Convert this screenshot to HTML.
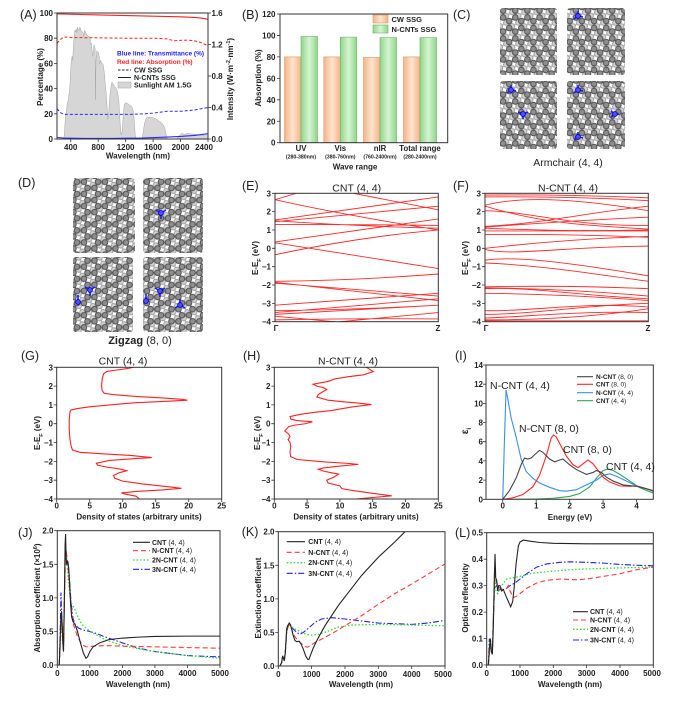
<!DOCTYPE html>
<html><head><meta charset="utf-8">
<style>
html,body{margin:0;padding:0;background:#fff;}
svg{display:block;font-family:"Liberation Sans",Arial,sans-serif;}
.tk{font-size:8px;font-weight:bold;fill:#222}
.ax{font-size:8px;font-weight:bold;fill:#222}
.pl{font-size:12.5px;fill:#222}
.tt{font-size:10.5px;fill:#222}
.ns{vector-effect:non-scaling-stroke;fill:none}
.fr{fill:none;stroke:#333;stroke-width:1}
.tl{stroke:#333;stroke-width:0.8;fill:none}
.lg{font-size:7px;fill:#222}
.bd{stroke:#ff2a2a;stroke-width:0.9;fill:none;vector-effect:non-scaling-stroke}
</style></head><body>
<svg width="678" height="701" viewBox="0 0 678 701" xmlns="http://www.w3.org/2000/svg">
<defs>
<linearGradient id="go" x1="0" x2="1" y1="0" y2="0"><stop offset="0" stop-color="#f5b487"/><stop offset="0.5" stop-color="#fde4cf"/><stop offset="1" stop-color="#f5b487"/></linearGradient>
<linearGradient id="gg" x1="0" x2="1" y1="0" y2="0"><stop offset="0" stop-color="#8fd68b"/><stop offset="0.5" stop-color="#d6f4d1"/><stop offset="1" stop-color="#8fd68b"/></linearGradient>
<pattern id="pf" width="12.124" height="21" patternUnits="userSpaceOnUse">
 <path d="M0 0V7M12.124 0V7M0 7L6.062 10.5L12.124 7M6.062 10.5V17.5M0 21L6.062 17.5L12.124 21" stroke="#6e6e6e" stroke-width="1.6" fill="none"/>
 <g fill="#8e8e8e" stroke="#545454" stroke-width="1"><circle cx="0" cy="0" r="2.8"/><circle cx="12.124" cy="0" r="2.8"/><circle cx="0" cy="7" r="2.8"/><circle cx="12.124" cy="7" r="2.8"/><circle cx="6.062" cy="10.5" r="2.8"/><circle cx="6.062" cy="17.5" r="2.8"/><circle cx="0" cy="21" r="2.8"/><circle cx="12.124" cy="21" r="2.8"/></g>
</pattern>
<pattern id="pb" width="12.124" height="21" patternUnits="userSpaceOnUse" patternTransform="translate(3,5.2)">
 <path d="M0 0V7M12.124 0V7M0 7L6.062 10.5L12.124 7M6.062 10.5V17.5M0 21L6.062 17.5L12.124 21" stroke="#b5b5b5" stroke-width="1.4" fill="none"/>
 <g fill="#d2d2d2" stroke="#9a9a9a" stroke-width="0.9"><circle cx="0" cy="0" r="2.6"/><circle cx="12.124" cy="0" r="2.6"/><circle cx="0" cy="7" r="2.6"/><circle cx="12.124" cy="7" r="2.6"/><circle cx="6.062" cy="10.5" r="2.6"/><circle cx="6.062" cy="17.5" r="2.6"/><circle cx="0" cy="21" r="2.6"/><circle cx="12.124" cy="21" r="2.6"/></g>
</pattern>
<pattern id="pfz" href="#pf" patternTransform="rotate(90)"/>
<pattern id="pbz" href="#pb" patternTransform="rotate(90) translate(3,5.2)"/>
<clipPath id="cA"><rect x="57" y="13" width="151" height="126"/></clipPath>
<clipPath id="cE"><rect x="275" y="193.3" width="163.3" height="128.4"/></clipPath>
<clipPath id="cF"><rect x="485" y="193.3" width="163.3" height="128.4"/></clipPath>
<clipPath id="cG"><rect x="56.7" y="367.3" width="165" height="131.7"/></clipPath>
<clipPath id="cH"><rect x="274.3" y="367.3" width="164" height="131.7"/></clipPath>
<clipPath id="cI"><rect x="486" y="365" width="167.3" height="134.3"/></clipPath>
<clipPath id="cJ"><rect x="57.3" y="530.7" width="162.7" height="134.3"/></clipPath>
<clipPath id="cK"><rect x="278.3" y="531.7" width="166.7" height="134.3"/></clipPath>
<clipPath id="cL"><rect x="486.7" y="532.7" width="166.6" height="132.3"/></clipPath>
</defs>
<rect width="678" height="701" fill="#fff"/>

<!-- ===== A ===== -->
<text class="pl" x="20" y="19">(A)</text>
<g clip-path="url(#cA)">
<g transform="translate(43.273,139) scale(0.068636,-78.75)">
<polygon style="fill:#d6d6d6;stroke:#a5a5a5;stroke-width:0.5;vector-effect:non-scaling-stroke" points="300,0 310,0.1 320,0.25 335,0.35 350,0.45 365,0.5 380,0.6 390,0.7 400,0.9 410,1.0 420,1.05 430,1.0 440,1.2 450,1.3 460,1.38 470,1.36 480,1.4 490,1.35 500,1.42 510,1.38 520,1.38 530,1.42 540,1.41 550,1.38 560,1.37 570,1.36 580,1.35 590,1.3 600,1.38 620,1.35 640,1.32 660,1.3 680,1.3 690,1.2 700,1.22 720,1.05 730,1.1 740,1.2 755,1.15 760,0.5 768,1.0 780,1.12 800,1.1 815,1.05 820,0.95 835,1.0 850,0.97 870,0.95 880,0.9 895,0.8 900,0.72 915,0.6 930,0.4 940,0.25 955,0.35 970,0.55 985,0.65 1000,0.72 1020,0.7 1040,0.66 1060,0.65 1080,0.6 1100,0.5 1110,0.35 1120,0.2 1135,0.05 1150,0.1 1165,0.3 1180,0.44 1200,0.46 1230,0.45 1260,0.43 1290,0.41 1310,0.36 1325,0.25 1340,0.05 1355,0 1440,0 1455,0.08 1475,0.2 1500,0.27 1550,0.28 1600,0.27 1650,0.25 1700,0.22 1740,0.19 1770,0.14 1790,0.06 1805,0 1950,0 1960,0.03 1990,0.05 2020,0.07 2060,0.06 2100,0.07 2150,0.065 2200,0.06 2250,0.055 2300,0.05 2350,0.045 2400,0.04 2400,0"/>
</g>
<g transform="translate(43.273,139) scale(0.068636,-1.26)">
<polyline class="ns" stroke="#ff2020" stroke-width="1.1" points="200,99.3 400,99 800,98.5 1200,98 1600,97.5 2000,97 2200,96.5 2300,96 2400,95"/>
<polyline class="ns" stroke="#ff2020" stroke-width="1" stroke-dasharray="3 2" points="200,76 250,79 300,81 400,80.5 800,80.3 1200,80 1600,80 1800,79.5 1900,78 2000,78.3 2100,78.5 2200,78 2300,76.5 2400,74"/>
<polyline class="ns" stroke="#2a2aff" stroke-width="1" stroke-dasharray="3 2" points="200,24 250,21 300,19.5 400,19.5 800,19.5 1200,19.5 1400,19.8 1600,20.5 1800,22 2000,22 2200,23 2300,24 2400,25"/>
<polyline class="ns" stroke="#2a2aff" stroke-width="1.1" points="200,1.2 300,0.8 600,0.5 1000,0.5 1400,0.7 1800,1.5 2000,2 2200,2.8 2400,4.2"/>
</g>
</g>
<rect class="fr" x="57" y="13" width="151" height="126"/>
<path class="tl" d="M70.73 139v3M98.18 139v3M125.64 139v3M153.09 139v3M180.55 139v3M208 139v3M57 139h-3M57 113.8h-3M57 88.6h-3M57 63.4h-3M57 38.2h-3M57 13h-3M208 139h3M208 107.5h3M208 76h3M208 44.5h3M208 13h3"/>
<g class="tk" text-anchor="middle"><text x="70.7" y="150">400</text><text x="98.2" y="150">800</text><text x="125.6" y="150">1200</text><text x="153.1" y="150">1600</text><text x="180.5" y="150">2000</text><text x="204" y="150">2400</text></g>
<g class="tk" text-anchor="end"><text x="53" y="142">0</text><text x="53" y="116.8">20</text><text x="53" y="91.6">40</text><text x="53" y="66.4">60</text><text x="53" y="41.2">80</text><text x="53" y="16">100</text></g>
<g class="tk"><text x="211.5" y="142">0.0</text><text x="211.5" y="110.5">0.4</text><text x="211.5" y="79">0.8</text><text x="211.5" y="47.5">1.2</text><text x="211.5" y="16">1.6</text></g>
<text class="ax" x="138" y="158.5" text-anchor="middle">Wavelength (nm)</text>
<text class="ax" transform="translate(43,77) rotate(-90)" text-anchor="middle">Percentage (%)</text>
<text class="ax" transform="translate(233,79) rotate(-90)" text-anchor="middle">Intensity (W·m<tspan baseline-shift="super" font-size="5.5">-2</tspan>·nm<tspan baseline-shift="super" font-size="5.5">-1</tspan>)</text>
<text x="117" y="55.5" font-size="6.5" font-weight="bold" fill="#2020ff">Blue line: Transmittance (%)</text>
<text x="117" y="64" font-size="6.5" font-weight="bold" fill="#ff2020">Red line: Absorption (%)</text>
<path d="M118 70h13" stroke="#222" stroke-width="1" stroke-dasharray="2.5 1.5"/>
<path d="M118 77.5h13" stroke="#222" stroke-width="1"/>
<rect x="118" y="82" width="13" height="6" fill="#d6d6d6" stroke="#a5a5a5" stroke-width="0.5"/>
<g font-size="7" font-weight="bold" fill="#222"><text x="134" y="72.5">CW SSG</text><text x="134" y="80">N-CNTs SSG</text><text x="134" y="87.5">Sunlight AM 1.5G</text></g>

<!-- ===== B ===== -->
<text class="pl" x="242" y="19">(B)</text>
<g stroke-width="0.6">
<rect x="284.5" y="56.9" width="16.5" height="85.8" fill="url(#go)" stroke="#d59a6d"/>
<rect x="301" y="36.5" width="16.5" height="106.2" fill="url(#gg)" stroke="#6db368"/>
<rect x="323.8" y="56.9" width="16.5" height="85.8" fill="url(#go)" stroke="#d59a6d"/>
<rect x="340.3" y="37.1" width="16.5" height="105.6" fill="url(#gg)" stroke="#6db368"/>
<rect x="363.5" y="57.4" width="16.5" height="85.3" fill="url(#go)" stroke="#d59a6d"/>
<rect x="380" y="37.6" width="16.5" height="105.1" fill="url(#gg)" stroke="#6db368"/>
<rect x="403.5" y="56.9" width="16.5" height="85.8" fill="url(#go)" stroke="#d59a6d"/>
<rect x="420" y="37.6" width="16.5" height="105.1" fill="url(#gg)" stroke="#6db368"/>
</g>
<rect class="fr" x="280" y="14" width="167.7" height="128.7"/>
<path class="tl" d="M280 142.7h-3M280 121.25h-3M280 99.8h-3M280 78.35h-3M280 56.9h-3M280 35.45h-3M280 14h-3"/>
<g class="tk" text-anchor="end"><text x="275.5" y="145.7">0</text><text x="275.5" y="124.25">20</text><text x="275.5" y="102.8">40</text><text x="275.5" y="81.35">60</text><text x="275.5" y="59.9">80</text><text x="275.5" y="38.45">100</text><text x="275.5" y="17">120</text></g>
<g font-size="7.8" font-weight="bold" fill="#222" text-anchor="middle"><text x="301" y="151">UV</text><text x="340.3" y="151">Vis</text><text x="380" y="151">nIR</text><text x="420" y="151">Total range</text></g>
<g font-size="5.2" font-weight="bold" fill="#222" text-anchor="middle"><text x="301" y="158.5">(280-380nm)</text><text x="340.3" y="158.5">(380-760nm)</text><text x="380" y="158.5">(760-2400nm)</text><text x="420" y="158.5">(280-2400nm)</text></g>
<text class="ax" x="355" y="169.5" text-anchor="middle">Wave range</text>
<text class="ax" transform="translate(261,78) rotate(-90)" text-anchor="middle">Absorption (%)</text>
<rect x="373" y="15" width="15" height="8" fill="url(#go)" stroke="#d59a6d" stroke-width="0.6"/>
<rect x="373" y="25" width="15" height="8" fill="url(#gg)" stroke="#6db368" stroke-width="0.6"/>
<g font-size="7.5" font-weight="bold" fill="#222"><text x="391.5" y="22">CW SSG</text><text x="391.5" y="32">N-CNTs SSG</text></g>

<!-- ===== C ===== -->
<text class="pl" x="453" y="19">(C)</text>
<g>
<rect x="500" y="8" width="57" height="67" rx="3" fill="url(#pb)"/><rect x="500" y="8" width="57" height="67" rx="3" fill="url(#pf)"/>
<rect x="567" y="8" width="58" height="67" rx="3" fill="url(#pb)"/><rect x="567" y="8" width="58" height="67" rx="3" fill="url(#pf)"/>
<rect x="500" y="81" width="57" height="68" rx="3" fill="url(#pb)"/><rect x="500" y="81" width="57" height="68" rx="3" fill="url(#pf)"/>
<rect x="567" y="81" width="58" height="68" rx="3" fill="url(#pb)"/><rect x="567" y="81" width="58" height="68" rx="3" fill="url(#pf)"/>
</g>
<g stroke="#1a1aff" stroke-width="1.6" fill="none">
<path d="M578 16l-4 3M578 16l5 1M578 16v-5M511 90l-4 3M511 90l5 1M511 90v-5M523 114l-5-2M523 114l5-2M523 114v5M578 90l-4 3M578 90l5 1M578 90v-5M615 114l-4-3M615 114l-4 3M615 114h4M578 137l-4 3M578 137l5 1M578 137v-5"/>
</g>
<g fill="#5050ff" stroke="#0000cc" stroke-width="0.9"><circle cx="578" cy="16" r="2.4"/><circle cx="511" cy="90" r="2.4"/><circle cx="523" cy="114" r="2.4"/><circle cx="578" cy="90" r="2.4"/><circle cx="615" cy="114" r="2.4"/><circle cx="578" cy="137" r="2.4"/></g>
<text class="tt" x="568" y="166" text-anchor="middle" font-size="11">Armchair (4, 4)</text>

<!-- ===== D ===== -->
<text class="pl" x="18" y="187">(D)</text>
<g>
<rect x="73" y="178" width="62" height="75" rx="3" fill="url(#pbz)"/><rect x="73" y="178" width="62" height="75" rx="3" fill="url(#pfz)"/>
<rect x="143" y="178" width="60" height="75" rx="3" fill="url(#pbz)"/><rect x="143" y="178" width="60" height="75" rx="3" fill="url(#pfz)"/>
<rect x="73" y="257" width="60" height="75" rx="3" fill="url(#pbz)"/><rect x="73" y="257" width="60" height="75" rx="3" fill="url(#pfz)"/>
<rect x="143" y="257" width="60" height="75" rx="3" fill="url(#pbz)"/><rect x="143" y="257" width="60" height="75" rx="3" fill="url(#pfz)"/>
</g>
<g stroke="#1a1aff" stroke-width="1.6" fill="none">
<path d="M161 213l-5-3M161 213l5-3M161 213v6M90 290l-5-3M90 290l5-3M90 290v6M78 302v-7M160 291l-5-3M160 291l5-3M160 291v6M146 301v-7M180 305l-5 3M180 305l5 3M180 305v-6"/>
</g>
<g fill="#5050ff" stroke="#0000cc" stroke-width="0.9"><circle cx="161" cy="213" r="2.4"/><circle cx="90" cy="290" r="2.4"/><circle cx="78" cy="302" r="2.4"/><circle cx="160" cy="291" r="2.4"/><circle cx="146" cy="301" r="2.4"/><circle cx="180" cy="305" r="2.4"/></g>
<text x="140" y="344" text-anchor="middle" font-size="11" fill="#222"><tspan font-weight="bold">Zigzag</tspan> (8, 0)</text>

<!-- ===== E ===== -->
<text class="pl" x="242" y="190">(E)</text>
<text class="tt" x="356.7" y="191.5" text-anchor="middle">CNT (4, 4)</text>
<g clip-path="url(#cE)"><g transform="translate(275,248.33) scale(163.3,-18.343)">
<path class="bd" d="M0 2.65L0.5 4M0 2.65Q0.4 1.85 1 1.0M0.48 3L1 2.1M0 1.55L1 2.8M0 1.45L1 2.3M0 1.5Q0.5 1.2 1 1.1M0 1.3Q0.5 1.3 1 1.25M0 0.35L1 1.6M0 -0.35Q0.5 0.6 1 1.0M0 0.3L1 -1.1M0 -1.8Q0.5 -1.75 1 -1.4M0 -1.85L1 -2.85M0 -1.9L1 -2.6M0 -3.1L1 -2.45M0 -3.4Q0.5 -3.35 1 -3.1M0 -3.5L1 -2.75M0 -3.6L1 -3.1M0 -3.7L0.6 -4.2M0.4 -4L1 -3.5M0 -3.9Q0.5 -3.8 1 -3.85"/>
</g></g>
<rect class="fr" x="275" y="193.3" width="163.3" height="128.4" stroke="#444"/>
<path class="tl" d="M275 193.3h-3M275 211.6h-3M275 230h-3M275 248.3h-3M275 266.7h-3M275 285h-3M275 303.4h-3M275 321.7h-3"/>
<g class="tk" text-anchor="end"><text x="271" y="196.3">3</text><text x="271" y="214.6">2</text><text x="271" y="233">1</text><text x="271" y="251.3">0</text><text x="271" y="269.7">−1</text><text x="271" y="288">−2</text><text x="271" y="306.4">−3</text><text x="271" y="324.7">−4</text></g>
<g class="tk" text-anchor="middle"><text x="276" y="331">Γ</text><text x="438" y="331">Z</text></g>
<text class="ax" transform="translate(258,258) rotate(-90)" text-anchor="middle">E-E<tspan baseline-shift="sub" font-size="5.5">F</tspan> (eV)</text>

<!-- ===== F ===== -->
<text class="pl" x="453" y="190">(F)</text>
<text class="tt" x="568" y="191.5" text-anchor="middle">N-CNT (4, 4)</text>
<g clip-path="url(#cF)"><g transform="translate(485,248.33) scale(163.3,-18.343)">
<path class="bd" d="M0 2.9Q0.5 2.95 1 2.75M0 2.8Q0.5 2.85 1 2.6M0 2.35C0.2 2.8 0.5 2.8 1 2.05M0 2.3C0.3 1.5 0.5 1.3 1 1.05M0 2.05C0.3 2.0 0.5 1.2 1 1.25M0 1.2C0.3 1.3 0.6 1.9 1 2.3M0 1.15Q0.5 1.5 1 1.7M0 1.1Q0.5 0.9 1 1.0M0 0.95L1 0.95M0 0.75Q0.5 0.8 1 0.6M0 0Q0.5 0.5 1 0.65M0 -0.05C0.15 -0.45 0.5 0.1 1 0.12M0 -0.65C0.15 -0.45 0.4 -0.6 1 -1.5M0 -0.8C0.3 -0.9 0.6 -1.3 1 -1.8M0 -2.1Q0.5 -2.0 1 -2.2M0 -2.15Q0.5 -2.2 1 -2.6M0 -2.2C0.3 -2.1 0.6 -2.6 1 -2.75M0 -2.45Q0.5 -2.5 1 -2.85M0 -3.4C0.3 -3.45 0.6 -2.9 1 -3.2M0 -3.6C0.3 -3.6 0.6 -3.1 1 -3.0M0 -3.8C0.3 -3.7 0.6 -3.4 1 -3.5M0 -3.9C0.3 -3.9 0.6 -3.8 1 -3.3M0 -3.95L1 -3.95"/>
</g></g>
<rect class="fr" x="485" y="193.3" width="163.3" height="128.4" stroke="#444"/>
<path class="tl" d="M485 193.3h-3M485 211.6h-3M485 230h-3M485 248.3h-3M485 266.7h-3M485 285h-3M485 303.4h-3M485 321.7h-3"/>
<g class="tk" text-anchor="end"><text x="481" y="196.3">3</text><text x="481" y="214.6">2</text><text x="481" y="233">1</text><text x="481" y="251.3">0</text><text x="481" y="269.7">−1</text><text x="481" y="288">−2</text><text x="481" y="306.4">−3</text><text x="481" y="324.7">−4</text></g>
<g class="tk" text-anchor="middle"><text x="486" y="331">Γ</text><text x="648" y="331">Z</text></g>
<text class="ax" transform="translate(468,258) rotate(-90)" text-anchor="middle">E-E<tspan baseline-shift="sub" font-size="5.5">F</tspan> (eV)</text>

<!-- ===== G ===== -->
<text class="pl" x="21" y="360">(G)</text>
<text class="tt" x="123" y="364.5" text-anchor="middle">CNT (4, 4)</text>
<g clip-path="url(#cG)"><g transform="translate(56.7,423.74) scale(6.6,-18.814)">
<polyline class="ns" stroke="#ff2020" stroke-width="1.1" points="12.1,3.05 11,2.95 9,2.85 7.6,2.78 7.1,2.65 6.9,2.4 6.8,2.0 6.9,1.75 7.2,1.62 8.5,1.55 12,1.45 16,1.37 19,1.3 19.8,1.25 17,1.2 12,1.12 8,1.0 5,0.9 3,0.8 2.1,0.72 2.0,0.6 1.9,0.2 1.9,-0.3 2.0,-0.8 2.2,-1.2 2.4,-1.4 3.5,-1.52 7,-1.6 11,-1.68 14.4,-1.8 12,-1.85 8,-1.95 6,-2.1 6.2,-2.2 7.5,-2.3 9.5,-2.4 10.6,-2.5 9.5,-2.6 8.6,-2.75 8.8,-2.9 10,-3.05 13,-3.2 17,-3.35 18.9,-3.43 16,-3.52 12,-3.6 9.8,-3.68 10.5,-3.75 12,-3.85 12.4,-3.95 12.5,-4.05"/>
</g></g>
<rect class="fr" x="56.7" y="367.3" width="165" height="131.7"/>
<path class="tl" d="M56.7 367.3h-3M56.7 386.1h-3M56.7 404.9h-3M56.7 423.7h-3M56.7 442.6h-3M56.7 461.4h-3M56.7 480.2h-3M56.7 499h-3M56.7 499v3M89.7 499v3M122.7 499v3M155.7 499v3M188.7 499v3M221.7 499v3"/>
<g class="tk" text-anchor="end"><text x="53" y="370.3">3</text><text x="53" y="389.1">2</text><text x="53" y="407.9">1</text><text x="53" y="426.7">0</text><text x="53" y="445.6">−1</text><text x="53" y="464.4">−2</text><text x="53" y="483.2">−3</text><text x="53" y="502">−4</text></g>
<g class="tk" text-anchor="middle"><text x="56.7" y="508.5">0</text><text x="89.7" y="508.5">5</text><text x="122.7" y="508.5">10</text><text x="155.7" y="508.5">15</text><text x="188.7" y="508.5">20</text><text x="221.7" y="508.5">25</text></g>
<text class="ax" transform="translate(40,433) rotate(-90)" text-anchor="middle">E-E<tspan baseline-shift="sub" font-size="5.5">F</tspan> (eV)</text>
<text class="ax" x="139" y="519.5" text-anchor="middle">Density of states (arbitrary units)</text>

<!-- ===== H ===== -->
<text class="pl" x="243" y="360">(H)</text>
<text class="tt" x="348" y="364.5" text-anchor="middle">N-CNT (4, 4)</text>
<g clip-path="url(#cH)"><g transform="translate(274.3,423.74) scale(6.56,-18.814)">
<polyline class="ns" stroke="#ff2020" stroke-width="1.1" points="13.8,3.05 14.5,2.9 15.1,2.77 13.6,2.6 11.3,2.5 9.2,2.38 8.2,2.25 5.9,2.1 6.5,2.0 7.5,1.92 8.0,1.82 7.4,1.7 6.7,1.55 6.5,1.42 8.2,1.25 11,1.15 12.8,1.1 14.8,1.02 12,0.9 10.3,0.8 8.7,0.7 6,0.6 4,0.5 2.4,0.38 2.5,0.25 3.4,0.17 5,0.13 5.8,0.1 4.7,0 3,-0.08 2.2,-0.15 1.6,-0.38 2.2,-0.55 2.4,-0.68 2.1,-0.84 2.4,-1.0 2.5,-1.2 2.4,-1.5 2.5,-1.75 3.5,-1.9 7.7,-2.03 11,-2.1 12.8,-2.16 10,-2.25 7.5,-2.35 6.7,-2.42 7.5,-2.52 9.8,-2.68 9.0,-2.85 8.0,-3.0 8.2,-3.15 10,-3.3 10.3,-3.45 12,-3.55 15,-3.7 17.9,-3.83 15,-3.92 11.8,-4.02"/>
</g></g>
<rect class="fr" x="274.3" y="367.3" width="164" height="131.7"/>
<path class="tl" d="M274.3 367.3h-3M274.3 386.1h-3M274.3 404.9h-3M274.3 423.7h-3M274.3 442.6h-3M274.3 461.4h-3M274.3 480.2h-3M274.3 499h-3M274.3 499v3M307.1 499v3M339.9 499v3M372.7 499v3M405.5 499v3M438.3 499v3"/>
<g class="tk" text-anchor="end"><text x="270.5" y="370.3">3</text><text x="270.5" y="389.1">2</text><text x="270.5" y="407.9">1</text><text x="270.5" y="426.7">0</text><text x="270.5" y="445.6">−1</text><text x="270.5" y="464.4">−2</text><text x="270.5" y="483.2">−3</text><text x="270.5" y="502">−4</text></g>
<g class="tk" text-anchor="middle"><text x="274.3" y="508.5">0</text><text x="307.1" y="508.5">5</text><text x="339.9" y="508.5">10</text><text x="372.7" y="508.5">15</text><text x="405.5" y="508.5">20</text><text x="438.3" y="508.5">25</text></g>
<text class="ax" transform="translate(260,433) rotate(-90)" text-anchor="middle">E-E<tspan baseline-shift="sub" font-size="5.5">F</tspan> (eV)</text>
<text class="ax" x="356" y="519.5" text-anchor="middle">Density of states (arbitrary units)</text>

<!-- ===== I ===== -->
<text class="pl" x="455" y="360">(I)</text>
<g clip-path="url(#cI)"><g transform="translate(502.73,499.3) scale(33.46,-9.593)">
<polyline class="ns" stroke="#2ea55a" stroke-width="1.1" points="0,0 1.0,0.02 1.5,0.1 2.0,0.3 2.3,0.6 2.6,1.3 2.8,2.2 3.0,3.0 3.15,3.15 3.3,3.0 3.5,2.6 3.8,1.9 4.1,1.2 4.5,0.65"/>
<polyline class="ns" stroke="#3b8fe6" stroke-width="1.1" points="0,0 0.05,6 0.1,11.4 0.15,10.5 0.25,8.5 0.4,6.5 0.55,4.2 0.7,2.9 0.9,2.2 1.1,1.7 1.4,1.25 1.7,0.9 1.9,0.85 2.2,1.0 2.5,1.5 2.8,2.0 3.0,2.5 3.2,2.65 3.4,2.4 3.7,1.9 4.0,1.4 4.3,1.1 4.5,0.85"/>
<polyline class="ns" stroke="#ff2525" stroke-width="1.1" points="0,0 0.3,0.15 0.6,0.5 0.9,1.3 1.1,2.5 1.3,4.5 1.45,6.4 1.52,6.7 1.6,6.5 1.75,5.5 1.9,4.5 2.1,3.6 2.25,3.3 2.4,3.7 2.55,4.1 2.7,3.7 2.85,3.0 3.0,2.3 3.2,1.8 3.5,1.4 3.8,1.35 4.0,1.4 4.2,1.2 4.5,0.9"/>
<polyline class="ns" stroke="#444" stroke-width="1.1" points="0,0 0.2,0.9 0.4,2.2 0.55,3.6 0.65,4.3 0.75,4.2 0.85,4.3 1.0,4.8 1.1,5.1 1.2,4.9 1.4,4.2 1.55,3.9 1.7,4.1 1.8,4.2 2.0,3.6 2.2,3.1 2.5,2.6 2.7,2.8 2.8,3.0 2.95,2.8 3.1,2.3 3.3,1.9 3.6,1.5 4.0,1.35 4.3,1.1 4.5,0.85"/>
</g></g>
<rect class="fr" x="486" y="365" width="167.3" height="134.3"/>
<path class="tl" d="M486 499.3h-3M486 480.1h-3M486 460.9h-3M486 441.7h-3M486 422.6h-3M486 403.4h-3M486 384.2h-3M486 365h-3M502.7 499.3v3M536.2 499.3v3M569.7 499.3v3M603.1 499.3v3M636.6 499.3v3"/>
<g class="tk" text-anchor="end"><text x="483" y="502.3">0</text><text x="483" y="483.1">2</text><text x="483" y="463.9">4</text><text x="483" y="444.7">6</text><text x="483" y="425.6">8</text><text x="483" y="406.4">10</text><text x="483" y="387.2">12</text><text x="483" y="368">14</text></g>
<g class="tk" text-anchor="middle"><text x="502.7" y="508.5">0</text><text x="536.2" y="508.5">1</text><text x="569.7" y="508.5">2</text><text x="603.1" y="508.5">3</text><text x="636.6" y="508.5">4</text></g>
<text transform="translate(468,431) rotate(-90)" text-anchor="middle" font-size="10" font-weight="bold" fill="#222">ε<tspan baseline-shift="sub" font-size="6">i</tspan></text>
<text class="ax" x="570" y="520" text-anchor="middle">Energy (eV)</text>
<g font-size="10.5" fill="#222"><text x="490" y="389">N-CNT (4, 4)</text><text x="519" y="432">N-CNT (8, 0)</text><text x="563" y="453">CNT (8, 0)</text><text x="606" y="470">CNT (4, 4)</text></g>
<path d="M577 376.7h16" stroke="#444" stroke-width="1.1"/><path d="M577 384.3h16" stroke="#ff2525" stroke-width="1.1"/><path d="M577 392.7h16" stroke="#3b8fe6" stroke-width="1.1"/><path d="M577 400.7h16" stroke="#2ea55a" stroke-width="1.1"/>
<g font-size="6.5" fill="#222"><text x="596" y="379"><tspan font-weight="bold">N-CNT</tspan> (8, 0)</text><text x="596" y="386.6"><tspan font-weight="bold">CNT</tspan> (8, 0)</text><text x="596" y="395"><tspan font-weight="bold">N-CNT</tspan> (4, 4)</text><text x="596" y="403"><tspan font-weight="bold">CNT</tspan> (4, 4)</text></g>

<!-- ===== J ===== -->
<text class="pl" x="18" y="537">(J)</text>
<g clip-path="url(#cJ)"><g transform="translate(57.3,665) scale(0.03254,-67.15)">
<polyline class="ns" stroke="#2222ee" stroke-width="1.1" stroke-dasharray="6 2 1.5 2" points="60,0 90,0.5 113,1.08 130,0.8 150,0.5 175,0.3 190,0.22 215,0.9 240,1.55 260,1.62 290,1.5 330,1.52 370,1.3 420,0.95 480,0.7 550,0.6 650,0.55 800,0.52 1000,0.5 1200,0.47 1400,0.43 1700,0.38 2000,0.33 2500,0.25 3000,0.2 3500,0.17 4000,0.14 4500,0.13 5000,0.12"/>
<polyline class="ns" stroke="#33dd33" stroke-width="1.3" stroke-dasharray="1.5 2" points="60,0 90,0.3 110,0.6 130,0.7 150,0.6 175,0.35 190,0.3 220,1.1 250,1.65 275,1.7 310,1.45 350,1.2 400,1.0 450,0.9 520,0.85 600,0.75 700,0.65 800,0.58 1000,0.5 1200,0.45 1500,0.37 2000,0.29 2500,0.24 3000,0.2 4000,0.14 5000,0.1"/>
<polyline class="ns" stroke="#ff3a3a" stroke-width="1.1" stroke-dasharray="5 3" points="60,0 90,0.3 110,0.6 130,0.7 150,0.55 175,0.3 190,0.25 220,1.0 250,1.6 270,1.7 300,1.6 340,1.4 400,1.0 450,0.75 500,0.6 600,0.45 700,0.35 800,0.29 900,0.27 1100,0.28 1500,0.29 2000,0.28 3000,0.27 4000,0.26 5000,0.25"/>
<polyline class="ns" stroke="#222" stroke-width="1.1" points="60,0 90,0.4 110,0.7 130,0.8 150,0.6 175,0.3 190,0.2 215,0.9 240,1.8 255,1.95 270,1.6 290,1.5 320,1.55 350,1.45 380,1.2 410,0.9 440,0.72 480,0.65 550,0.6 620,0.5 700,0.35 800,0.18 880,0.1 930,0.12 1000,0.2 1100,0.27 1300,0.33 1600,0.38 2000,0.4 2500,0.415 3000,0.425 4000,0.43 5000,0.43"/>
</g></g>
<rect class="fr" x="57.3" y="530.7" width="162.7" height="134.3"/>
<path class="tl" d="M57.3 665h-3M57.3 631.4h-3M57.3 597.85h-3M57.3 564.3h-3M57.3 530.7h-3M57.3 665v3M89.8 665v3M122.4 665v3M154.9 665v3M187.5 665v3M220 665v3"/>
<g class="tk" text-anchor="end"><text x="53.5" y="668">0.0</text><text x="53.5" y="634.4">0.5</text><text x="53.5" y="600.9">1.0</text><text x="53.5" y="567.3">1.5</text><text x="53.5" y="533.7">2.0</text></g>
<g class="tk" text-anchor="middle"><text x="57.3" y="676">0</text><text x="89.8" y="676">1000</text><text x="122.4" y="676">2000</text><text x="154.9" y="676">3000</text><text x="187.5" y="676">4000</text><text x="220" y="676">5000</text></g>
<text class="ax" transform="translate(40,598) rotate(-90)" text-anchor="middle">Absorption coefficient (×10<tspan baseline-shift="super" font-size="5.5">6</tspan>)</text>
<text class="ax" x="138" y="687" text-anchor="middle">Wavelength (nm)</text>
<path d="M133 542.3h17" stroke="#222" stroke-width="1.1"/><path d="M133 550.7h17" stroke="#ff3a3a" stroke-width="1.1" stroke-dasharray="5 3"/><path d="M133 560h17" stroke="#33dd33" stroke-width="1.3" stroke-dasharray="1.5 2"/><path d="M133 569.3h17" stroke="#2222ee" stroke-width="1.1" stroke-dasharray="6 2 1.5 2"/>
<g class="lg"><text x="152" y="544.8"><tspan font-weight="bold">CNT</tspan> (4, 4)</text><text x="152" y="553.2"><tspan font-weight="bold">N-CNT</tspan> (4, 4)</text><text x="152" y="562.5"><tspan font-weight="bold">2N-CNT</tspan> (4, 4)</text><text x="152" y="571.8"><tspan font-weight="bold">3N-CNT</tspan> (4, 4)</text></g>

<!-- ===== K ===== -->
<text class="pl" x="241.7" y="536">(K)</text>
<g clip-path="url(#cK)"><g transform="translate(278.3,666) scale(0.03334,-67.15)">
<polyline class="ns" stroke="#2222ee" stroke-width="1.1" stroke-dasharray="6 2 1.5 2" points="50,0 100,0.05 130,0.15 150,0.12 180,0.08 210,0.2 250,0.5 290,0.58 330,0.63 380,0.6 450,0.55 550,0.5 650,0.47 750,0.5 900,0.56 1100,0.65 1300,0.7 1600,0.72 2000,0.7 2500,0.67 3000,0.64 3500,0.63 4000,0.62 4500,0.64 5000,0.68"/>
<polyline class="ns" stroke="#33dd33" stroke-width="1.3" stroke-dasharray="1.5 2" points="50,0 100,0.05 130,0.15 150,0.12 180,0.08 210,0.2 250,0.5 290,0.58 330,0.62 380,0.6 450,0.56 550,0.54 700,0.5 850,0.47 1000,0.46 1200,0.47 1500,0.52 1800,0.58 2200,0.61 3000,0.62 4000,0.61 5000,0.6"/>
<polyline class="ns" stroke="#ff3a3a" stroke-width="1.1" stroke-dasharray="5 3" points="50,0 100,0.05 130,0.15 150,0.12 180,0.08 210,0.2 250,0.5 290,0.58 330,0.62 380,0.58 450,0.48 520,0.42 600,0.38 700,0.33 800,0.29 880,0.28 950,0.3 1100,0.35 1300,0.4 1600,0.48 2000,0.6 2500,0.75 3000,0.92 3500,1.08 4000,1.22 4500,1.37 5000,1.52"/>
<polyline class="ns" stroke="#222" stroke-width="1.1" points="50,0 100,0.05 130,0.15 150,0.12 180,0.08 210,0.2 250,0.55 280,0.6 330,0.64 360,0.62 400,0.55 450,0.45 500,0.38 560,0.36 620,0.37 680,0.33 750,0.25 820,0.15 880,0.1 920,0.1 980,0.18 1050,0.27 1200,0.42 1400,0.6 1800,0.9 2500,1.35 3000,1.62 3500,1.85 3800,2.0 3900,2.05"/>
</g></g>
<rect class="fr" x="278.3" y="531.7" width="166.7" height="134.3"/>
<path class="tl" d="M278.3 666h-3M278.3 632.4h-3M278.3 598.85h-3M278.3 565.3h-3M278.3 531.7h-3M278.3 666v3M311.6 666v3M345 666v3M378.3 666v3M411.7 666v3M445 666v3"/>
<g class="tk" text-anchor="end"><text x="274.5" y="669">0.0</text><text x="274.5" y="635.4">0.5</text><text x="274.5" y="601.9">1.0</text><text x="274.5" y="568.3">1.5</text><text x="274.5" y="534.7">2.0</text></g>
<g class="tk" text-anchor="middle"><text x="278.3" y="677">0</text><text x="311.6" y="677">1000</text><text x="345" y="677">2000</text><text x="378.3" y="677">3000</text><text x="411.7" y="677">4000</text><text x="443" y="677">5000</text></g>
<text class="ax" transform="translate(261,598) rotate(-90)" text-anchor="middle">Extinction coefficient</text>
<text class="ax" x="361" y="687" text-anchor="middle">Wavelength (nm)</text>
<path d="M286.7 541.7h18.3" stroke="#222" stroke-width="1.1"/><path d="M286.7 552.3h18.3" stroke="#ff3a3a" stroke-width="1.1" stroke-dasharray="5 3"/><path d="M286.7 562.7h18.3" stroke="#33dd33" stroke-width="1.3" stroke-dasharray="1.5 2"/><path d="M286.7 573.3h18.3" stroke="#2222ee" stroke-width="1.1" stroke-dasharray="6 2 1.5 2"/>
<g class="lg"><text x="308.3" y="544.2"><tspan font-weight="bold">CNT</tspan> (4, 4)</text><text x="308.3" y="554.8"><tspan font-weight="bold">N-CNT</tspan> (4, 4)</text><text x="308.3" y="565.2"><tspan font-weight="bold">2N-CNT</tspan> (4, 4)</text><text x="308.3" y="575.8"><tspan font-weight="bold">3N-CNT</tspan> (4, 4)</text></g>

<!-- ===== L ===== -->
<text class="pl" x="455" y="537">(L)</text>
<g clip-path="url(#cL)"><g transform="translate(486.7,665) scale(0.03332,-264.6)">
<polyline class="ns" stroke="#2222ee" stroke-width="1.1" stroke-dasharray="6 2 1.5 2" points="50,0 80,0.1 110,0.07 140,0.05 170,0.05 200,0.18 240,0.3 270,0.29 300,0.3 350,0.28 400,0.285 500,0.285 600,0.29 700,0.3 850,0.31 1000,0.325 1200,0.345 1500,0.37 1800,0.382 2200,0.388 2500,0.39 3000,0.388 3500,0.385 4000,0.38 4500,0.377 5000,0.375"/>
<polyline class="ns" stroke="#33dd33" stroke-width="1.3" stroke-dasharray="1.5 2" points="50,0 80,0.06 110,0.1 140,0.06 170,0.05 200,0.18 240,0.33 280,0.28 330,0.27 400,0.29 500,0.31 600,0.325 800,0.33 1000,0.335 1300,0.345 1600,0.35 2000,0.355 2500,0.36 3000,0.363 4000,0.367 5000,0.37"/>
<polyline class="ns" stroke="#ff3a3a" stroke-width="1.1" stroke-dasharray="5 3" points="50,0 80,0.05 110,0.08 140,0.05 170,0.05 200,0.18 240,0.37 270,0.32 300,0.31 350,0.3 400,0.29 500,0.285 600,0.29 650,0.3 700,0.28 800,0.255 900,0.26 1000,0.27 1200,0.29 1500,0.31 1800,0.32 2200,0.325 2700,0.322 3000,0.325 3500,0.335 4000,0.345 4500,0.36 5000,0.37"/>
<polyline class="ns" stroke="#222" stroke-width="1.1" points="50,0 80,0.06 110,0.1 140,0.05 170,0.04 200,0.15 230,0.33 250,0.42 270,0.33 300,0.32 330,0.28 360,0.3 400,0.3 450,0.28 500,0.285 580,0.26 650,0.24 720,0.22 780,0.24 830,0.3 880,0.38 950,0.45 1000,0.465 1100,0.472 1300,0.468 1600,0.463 2000,0.46 3000,0.458 5000,0.458"/>
</g></g>
<rect class="fr" x="486.7" y="532.7" width="166.6" height="132.3"/>
<path class="tl" d="M486.7 665h-3M486.7 638.5h-3M486.7 612.1h-3M486.7 585.6h-3M486.7 559.2h-3M486.7 532.7h-3M486.7 665v3M520 665v3M553.3 665v3M586.6 665v3M620 665v3M653.3 665v3"/>
<g class="tk" text-anchor="end"><text x="483" y="668">0.0</text><text x="483" y="641.5">0.1</text><text x="483" y="615.1">0.2</text><text x="483" y="588.6">0.3</text><text x="483" y="562.2">0.4</text><text x="483" y="535.7">0.5</text></g>
<g class="tk" text-anchor="middle"><text x="486.7" y="676">0</text><text x="520" y="676">1000</text><text x="553.3" y="676">2000</text><text x="586.6" y="676">3000</text><text x="620" y="676">4000</text><text x="652" y="676">5000</text></g>
<text class="ax" transform="translate(468,598) rotate(-90)" text-anchor="middle">Optical reflectivity</text>
<text class="ax" x="570" y="687" text-anchor="middle">Wavelength (nm)</text>
<path d="M573 611.7h15" stroke="#222" stroke-width="1.1"/><path d="M573 620h15" stroke="#ff3a3a" stroke-width="1.1" stroke-dasharray="5 3"/><path d="M573 629.3h15" stroke="#33dd33" stroke-width="1.3" stroke-dasharray="1.5 2"/><path d="M573 640h15" stroke="#2222ee" stroke-width="1.1" stroke-dasharray="6 2 1.5 2"/>
<g class="lg"><text x="590" y="614.2"><tspan font-weight="bold">CNT</tspan> (4, 4)</text><text x="590" y="622.5"><tspan font-weight="bold">N-CNT</tspan> (4, 4)</text><text x="590" y="631.8"><tspan font-weight="bold">2N-CNT</tspan> (4, 4)</text><text x="590" y="642.5"><tspan font-weight="bold">3N-CNT</tspan> (4, 4)</text></g>
</svg>
</body></html>
